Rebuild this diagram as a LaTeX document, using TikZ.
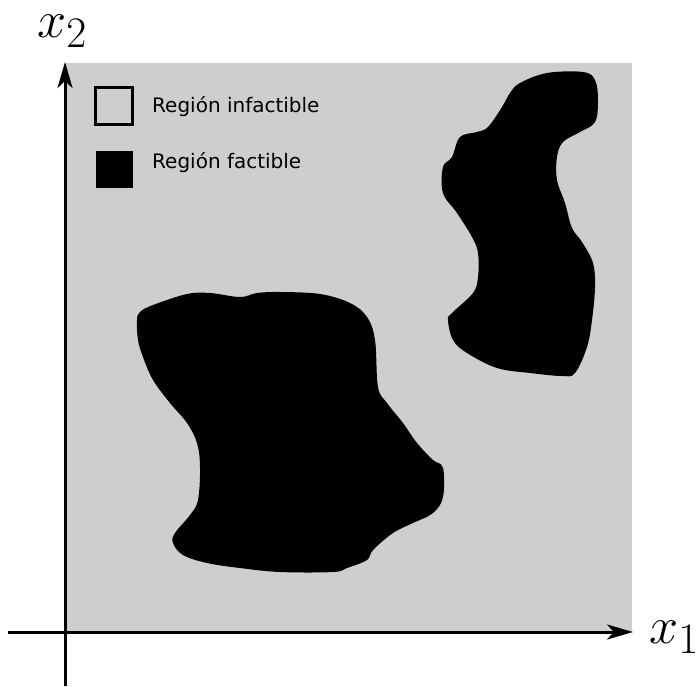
\documentclass[tikz,border=0pt]{standalone}
\usepackage{fontspec}
\setmainfont{DejaVu Sans}
\usetikzlibrary{arrows.meta,positioning}
\definecolor{infgray}{RGB}{206,206,206}
\newcommand{\biglabel}[1]{\scalebox{2.1}{\Huge$#1$}}
\tikzset{
  axis/.style={line width=3pt,-{Stealth[length=26pt,width=15pt,inset=7pt]}},
  legendbox/.style={minimum size=37pt,inner sep=0pt,line width=3pt},
  legendtext/.style={font=\fontsize{20}{24}\selectfont,anchor=base west,inner sep=0pt},
  axislabel/.style={inner sep=0pt,anchor=base west}
}
\begin{document}
\begin{tikzpicture}[x=1pt,y=-1pt]
  \useasboundingbox (0,0) rectangle (699,686);
  % infeasible background
  \fill[infgray] (65,63) rectangle (632,632);
  % feasible regions
  \fill[black] plot[smooth cycle,tension=0.6] coordinates {
    (140,312) (153,305) (187,294) (210,293) (240,297) (257,293) (280,292)
    (320,294) (350,303) (367,317) (375,340) (378,387) (387,403) (403,423)
    (417,443) (433,460) (443,468) (443,497) (433,513) (413,523) (393,533)
    (373,550) (367,560) (347,568) (333,572) (280,572) (240,568) (207,563)
    (183,555) (173,543) (175,533) (190,515) (198,500) (200,467) (197,443)
    (187,423) (170,403) (153,380) (143,357) (138,340) (137,320)};
  \fill[black] plot[smooth cycle,tension=0.6] coordinates {
    (520,83) (547,73) (583,72) (595,80) (598,100) (595,122) (580,132)
    (563,142) (557,157) (557,180) (565,203) (572,228) (582,242) (593,263)
    (595,287) (592,320) (587,347) (575,373) (562,376) (530,373) (497,368)
    (467,353) (453,340) (448,320) (452,313) (473,293) (478,277) (478,253)
    (472,237) (457,213) (443,193) (443,167) (452,157) (460,137) (477,132)
    (488,127) (502,107) (510,93)};
  % Define nodes
  \coordinate (o) at (65,632);
  \coordinate (xstart) at (8,632);
  \coordinate (xend) at (633,632);
  \coordinate (ystart) at (65,686);
  \coordinate (yend) at (65,62);
  \node[legendbox,draw=black,fill=infgray] (infbox) at (114,106) {};
  \node[legendbox,fill=black,below=23pt of infbox] (facbox) {};
  \node[legendtext] (inftext) at (152,112) {Región infactible};
  \node[legendtext] (factext) at (152,168) {Región factible};
  \node[axislabel] (xonelabel) at (649,643) {\biglabel{x_1}};
  \node[axislabel] (xtwolabel) at (37,37) {\biglabel{x_2}};
  % Axes
  \draw[axis] (xstart) -- (xend);
  \draw[axis] (ystart) -- (yend);
\end{tikzpicture}
\end{document}
